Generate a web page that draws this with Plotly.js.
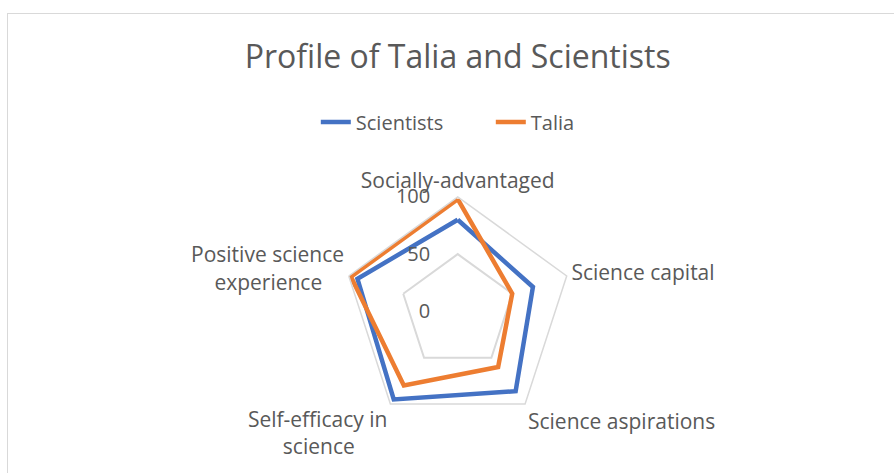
<!DOCTYPE html>
<html>
<head>
<meta charset="utf-8">
<script src="https://cdn.plot.ly/plotly-3.0.1.min.js"></script>
<style>
  html, body { margin: 0; padding: 0; overflow: hidden; background: #fff; }
  #graphDiv { position: absolute; left: 0; top: 0; width: 894px; height: 473px; }
  #frame { position: absolute; left: 7px; top: 13px; width: 920px; height: 500px;
           border: 1px solid #d9d9d9; pointer-events: none; }
</style>
</head>
<body>
<div id="graphDiv"></div>
<div id="frame"></div>
<script>
// \u00a0 pads the short second lines so they sit centred under the first
var categories = ['Socially-advantaged', 'Science capital', 'Science aspirations',
                  'Self-efficacy in<br>science\u00a0\u00a0\u00a0\u00a0\u00a0\u00a0',
                  'Positive science<br>experience\u00a0\u00a0\u00a0\u00a0'];
var scientists = [80, 69, 86, 95, 92];
var talia = [98, 50, 60, 80, 98];

var grey = '#595959';
var font = 'Open Sans, Noto Sans, sans-serif';

// repeat first point so the shape closes
function closeLoop(arr){
  return arr.concat([arr[0]]);
}

var line1 = {
  type: 'scatterpolar',
  mode: 'lines',
  name: 'Scientists',
  r: closeLoop(scientists),
  theta: closeLoop(categories),
  line: { color: '#4472c4', width: 4.5 }
};

var line2 = {
  type: 'scatterpolar',
  mode: 'lines',
  name: 'Talia',
  r: closeLoop(talia),
  theta: closeLoop(categories),
  line: { color: '#ed7d31', width: 4.5 }
};

var layout = {
  width: 894,
  height: 473,
  margin: { l: 0, r: 0, t: 0, b: 0 },
  paper_bgcolor: '#fff',
  font: { family: font, color: grey, size: 20 },
  title: {
    text: 'Profile of Talia and Scientists',
    font: { family: font, size: 32, color: grey },
    x: 0.512, xanchor: 'center',
    y: 0.879, yref: 'container', yanchor: 'middle'
  },
  showlegend: true,
  legend: {
    orientation: 'h',
    x: 0.549, xanchor: 'center',
    y: 0.742, yanchor: 'middle',
    font: { family: font, size: 20, color: grey },
    entrywidth: 130,
    entrywidthmode: 'pixels'
  },
  polar: {
    domain: { x: [0.3838, 0.6402], y: [0.0994, 0.5839] },
    gridshape: 'linear',
    bgcolor: '#fff',
    radialaxis: {
      range: [0, 100],
      tickvals: [0, 50, 100],
      angle: 90,
      tickangle: 90,
      side: 'counterclockwise',
      showline: false,
      ticks: 'outside',
      ticklen: 20,
      tickcolor: 'rgba(0,0,0,0)',
      gridcolor: '#d9d9d9',
      gridwidth: 1.5,
      tickfont: { family: font, size: 20, color: grey }
    },
    angularaxis: {
      rotation: 90,
      direction: 'clockwise',
      showgrid: false,
      showline: true,
      linecolor: '#d9d9d9',
      linewidth: 1.5,
      ticks: '',
      tickfont: { family: font, size: 21, color: grey }
    }
  }
};

Plotly.newPlot(graphDiv, [line1, line2], layout, { displayModeBar: false });
</script>
</body>
</html>
